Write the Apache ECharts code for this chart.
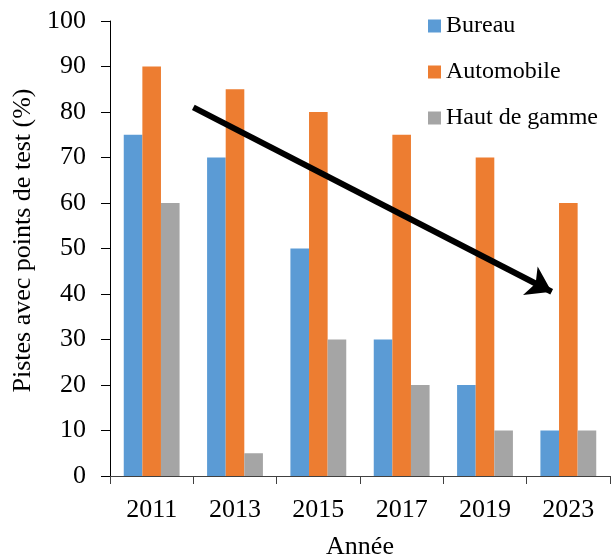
<!DOCTYPE html>
<html>
<head>
<meta charset="utf-8">
<script src="https://cdn.jsdelivr.net/npm/echarts@6/dist/echarts.min.js"></script>
<style>
    html, body {margin: 0; padding: 0; background: #fff;}
    #chart {width: 611px; height: 559px;}
</style>
</head>
<body>
<div id="chart"></div>
<script>
var years = ['2011', '2013', '2015', '2017', '2019', '2023'];
var bureau = [75, 70, 50, 30, 20, 10];
var automobile = [90, 85, 80, 75, 70, 60];
var hautDeGamme = [60, 5, 30, 20, 10, 10];
// tendance : début et fin de la flèche (x en unités de catégorie, y en %)
var arrowStart = [1.0, 81];
var arrowEnd = [5.3, 40.5];

var font = 'Liberation Serif';
var chart = echarts.init(document.getElementById('chart'));

var option = {
    animation: false,
    textStyle: {fontFamily: font, color: '#000'},
    grid: {left: 110, right: 1, top: 21, bottom: 83, outerBoundsMode: 'none'},
    legend: {
        data: ['Bureau', 'Automobile', 'Haut de gamme'],
        orient: 'vertical',
        left: 423,
        top: 9,
        itemWidth: 13,
        itemHeight: 13,
        itemGap: 22,
        icon: 'rect',
        textStyle: {fontFamily: font, fontSize: 24, color: '#000'}
    },
    xAxis: [{
        type: 'category',
        data: years,
        name: 'Année',
        nameLocation: 'middle',
        nameGap: 58,
        nameTextStyle: {fontFamily: font, fontSize: 26, color: '#000'},
        axisLine: {lineStyle: {color: '#404040', width: 1}},
        axisTick: {show: true, length: 8, lineStyle: {color: '#404040'}},
        axisLabel: {fontFamily: font, fontSize: 26, color: '#000', margin: 21}
    }, {
        type: 'value',
        min: 0,
        max: 6,
        show: false
    }],
    yAxis: {
        type: 'value',
        min: 0,
        max: 100,
        interval: 10,
        name: 'Pistes avec points de test (%)',
        nameLocation: 'middle',
        nameGap: 70,
        nameTextStyle: {fontFamily: font, fontSize: 26, color: '#000', padding: [0, 0, 0, 16]},
        splitLine: {show: false},
        axisLine: {show: true, lineStyle: {color: '#000', width: 1}},
        axisTick: {show: true, length: 9, lineStyle: {color: '#000'}},
        axisLabel: {fontFamily: font, fontSize: 26, color: '#000', margin: 24}
    },
    series: [{
        name: 'Bureau',
        type: 'bar',
        data: bureau,
        barGap: 0,
        barCategoryGap: '33%',
        itemStyle: {color: '#5B9BD5'}
    }, {
        name: 'Automobile',
        type: 'bar',
        data: automobile,
        barGap: 0,
        barCategoryGap: '33%',
        itemStyle: {color: '#ED7D31'}
    }, {
        name: 'Haut de gamme',
        type: 'bar',
        data: hautDeGamme,
        barGap: 0,
        barCategoryGap: '33%',
        itemStyle: {color: '#A5A5A5'}
    }, {
        name: 'tendance',
        type: 'line',
        xAxisIndex: 1,
        data: [],
        markLine: {
            silent: true,
            symbol: ['none', 'arrow'],
            symbolSize: [24, 24],
            label: {show: false},
            lineStyle: {color: '#000', width: 6, type: 'solid'},
            data: [[{coord: arrowStart}, {coord: arrowEnd}]]
        }
    }]
};
chart.setOption(option);
</script>
</body>
</html>
